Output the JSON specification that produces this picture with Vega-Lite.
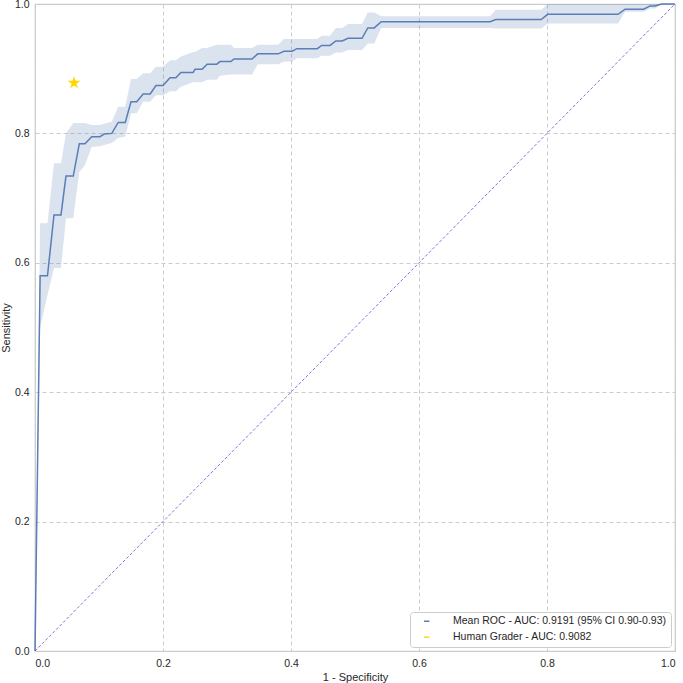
{
  "$schema": "https://vega.github.io/schema/vega-lite/v6.json",
  "width": 640,
  "height": 647,
  "autosize": "none",
  "padding": {"left": 35, "top": 4, "right": 8, "bottom": 32},
  "background": "white",
  "config": {
    "font": "Liberation Sans",
    "view": {"stroke": "#cccccc", "strokeWidth": 1.25},
    "axis": {
      "domain": false,
      "ticks": false,
      "grid": true,
      "gridColor": "#cccccc",
      "gridDash": [4, 3],
      "gridWidth": 1,
      "labelFontSize": 10.5,
      "labelColor": "#262626",
      "titleFontSize": 11,
      "titleFontWeight": "normal",
      "titleColor": "#262626"
    },
    "legend": {
      "labelFontSize": 10.5,
      "labelColor": "#262626",
      "labelLimit": 0
    }
  },
  "datasets": {
    "roc": [
      {"x": 0.0, "y": 0.0, "lo": 0.0, "hi": 0.0, "series": "Mean ROC - AUC: 0.9191 (95% CI 0.90-0.93)"},
      {"x": 0.008, "y": 0.580, "lo": 0.50, "hi": 0.661, "series": "Mean ROC - AUC: 0.9191 (95% CI 0.90-0.93)"},
      {"x": 0.0195, "y": 0.580, "lo": 0.55, "hi": 0.661, "series": "Mean ROC - AUC: 0.9191 (95% CI 0.90-0.93)"},
      {"x": 0.0297, "y": 0.674, "lo": 0.592, "hi": 0.754, "series": "Mean ROC - AUC: 0.9191 (95% CI 0.90-0.93)"},
      {"x": 0.0406, "y": 0.674, "lo": 0.592, "hi": 0.754, "series": "Mean ROC - AUC: 0.9191 (95% CI 0.90-0.93)"},
      {"x": 0.0484, "y": 0.734, "lo": 0.669, "hi": 0.80, "series": "Mean ROC - AUC: 0.9191 (95% CI 0.90-0.93)"},
      {"x": 0.0598, "y": 0.734, "lo": 0.669, "hi": 0.816, "series": "Mean ROC - AUC: 0.9191 (95% CI 0.90-0.93)"},
      {"x": 0.0692, "y": 0.784, "lo": 0.74, "hi": 0.816, "series": "Mean ROC - AUC: 0.9191 (95% CI 0.90-0.93)"},
      {"x": 0.0781, "y": 0.784, "lo": 0.751, "hi": 0.816, "series": "Mean ROC - AUC: 0.9191 (95% CI 0.90-0.93)"},
      {"x": 0.0886, "y": 0.795, "lo": 0.779, "hi": 0.813, "series": "Mean ROC - AUC: 0.9191 (95% CI 0.90-0.93)"},
      {"x": 0.1016, "y": 0.795, "lo": 0.780, "hi": 0.813, "series": "Mean ROC - AUC: 0.9191 (95% CI 0.90-0.93)"},
      {"x": 0.108, "y": 0.799, "lo": 0.782, "hi": 0.815, "series": "Mean ROC - AUC: 0.9191 (95% CI 0.90-0.93)"},
      {"x": 0.120, "y": 0.800, "lo": 0.785, "hi": 0.818, "series": "Mean ROC - AUC: 0.9191 (95% CI 0.90-0.93)"},
      {"x": 0.130, "y": 0.817, "lo": 0.793, "hi": 0.841, "series": "Mean ROC - AUC: 0.9191 (95% CI 0.90-0.93)"},
      {"x": 0.141, "y": 0.817, "lo": 0.795, "hi": 0.841, "series": "Mean ROC - AUC: 0.9191 (95% CI 0.90-0.93)"},
      {"x": 0.150, "y": 0.849, "lo": 0.831, "hi": 0.884, "series": "Mean ROC - AUC: 0.9191 (95% CI 0.90-0.93)"},
      {"x": 0.159, "y": 0.849, "lo": 0.831, "hi": 0.884, "series": "Mean ROC - AUC: 0.9191 (95% CI 0.90-0.93)"},
      {"x": 0.169, "y": 0.861, "lo": 0.849, "hi": 0.893, "series": "Mean ROC - AUC: 0.9191 (95% CI 0.90-0.93)"},
      {"x": 0.180, "y": 0.861, "lo": 0.849, "hi": 0.893, "series": "Mean ROC - AUC: 0.9191 (95% CI 0.90-0.93)"},
      {"x": 0.189, "y": 0.874, "lo": 0.859, "hi": 0.903, "series": "Mean ROC - AUC: 0.9191 (95% CI 0.90-0.93)"},
      {"x": 0.200, "y": 0.874, "lo": 0.859, "hi": 0.903, "series": "Mean ROC - AUC: 0.9191 (95% CI 0.90-0.93)"},
      {"x": 0.211, "y": 0.886, "lo": 0.865, "hi": 0.913, "series": "Mean ROC - AUC: 0.9191 (95% CI 0.90-0.93)"},
      {"x": 0.220, "y": 0.886, "lo": 0.865, "hi": 0.913, "series": "Mean ROC - AUC: 0.9191 (95% CI 0.90-0.93)"},
      {"x": 0.228, "y": 0.894, "lo": 0.872, "hi": 0.919, "series": "Mean ROC - AUC: 0.9191 (95% CI 0.90-0.93)"},
      {"x": 0.247, "y": 0.894, "lo": 0.879, "hi": 0.926, "series": "Mean ROC - AUC: 0.9191 (95% CI 0.90-0.93)"},
      {"x": 0.250, "y": 0.899, "lo": 0.879, "hi": 0.926, "series": "Mean ROC - AUC: 0.9191 (95% CI 0.90-0.93)"},
      {"x": 0.261, "y": 0.899, "lo": 0.879, "hi": 0.932, "series": "Mean ROC - AUC: 0.9191 (95% CI 0.90-0.93)"},
      {"x": 0.269, "y": 0.907, "lo": 0.883, "hi": 0.932, "series": "Mean ROC - AUC: 0.9191 (95% CI 0.90-0.93)"},
      {"x": 0.284, "y": 0.907, "lo": 0.883, "hi": 0.937, "series": "Mean ROC - AUC: 0.9191 (95% CI 0.90-0.93)"},
      {"x": 0.289, "y": 0.911, "lo": 0.889, "hi": 0.937, "series": "Mean ROC - AUC: 0.9191 (95% CI 0.90-0.93)"},
      {"x": 0.306, "y": 0.911, "lo": 0.891, "hi": 0.937, "series": "Mean ROC - AUC: 0.9191 (95% CI 0.90-0.93)"},
      {"x": 0.311, "y": 0.915, "lo": 0.891, "hi": 0.932, "series": "Mean ROC - AUC: 0.9191 (95% CI 0.90-0.93)"},
      {"x": 0.339, "y": 0.915, "lo": 0.891, "hi": 0.932, "series": "Mean ROC - AUC: 0.9191 (95% CI 0.90-0.93)"},
      {"x": 0.348, "y": 0.923, "lo": 0.907, "hi": 0.937, "series": "Mean ROC - AUC: 0.9191 (95% CI 0.90-0.93)"},
      {"x": 0.380, "y": 0.923, "lo": 0.907, "hi": 0.937, "series": "Mean ROC - AUC: 0.9191 (95% CI 0.90-0.93)"},
      {"x": 0.389, "y": 0.927, "lo": 0.911, "hi": 0.946, "series": "Mean ROC - AUC: 0.9191 (95% CI 0.90-0.93)"},
      {"x": 0.402, "y": 0.927, "lo": 0.911, "hi": 0.946, "series": "Mean ROC - AUC: 0.9191 (95% CI 0.90-0.93)"},
      {"x": 0.409, "y": 0.931, "lo": 0.916, "hi": 0.946, "series": "Mean ROC - AUC: 0.9191 (95% CI 0.90-0.93)"},
      {"x": 0.441, "y": 0.931, "lo": 0.916, "hi": 0.946, "series": "Mean ROC - AUC: 0.9191 (95% CI 0.90-0.93)"},
      {"x": 0.448, "y": 0.936, "lo": 0.920, "hi": 0.951, "series": "Mean ROC - AUC: 0.9191 (95% CI 0.90-0.93)"},
      {"x": 0.461, "y": 0.936, "lo": 0.920, "hi": 0.951, "series": "Mean ROC - AUC: 0.9191 (95% CI 0.90-0.93)"},
      {"x": 0.470, "y": 0.943, "lo": 0.925, "hi": 0.963, "series": "Mean ROC - AUC: 0.9191 (95% CI 0.90-0.93)"},
      {"x": 0.480, "y": 0.943, "lo": 0.925, "hi": 0.963, "series": "Mean ROC - AUC: 0.9191 (95% CI 0.90-0.93)"},
      {"x": 0.489, "y": 0.947, "lo": 0.929, "hi": 0.969, "series": "Mean ROC - AUC: 0.9191 (95% CI 0.90-0.93)"},
      {"x": 0.511, "y": 0.947, "lo": 0.929, "hi": 0.969, "series": "Mean ROC - AUC: 0.9191 (95% CI 0.90-0.93)"},
      {"x": 0.520, "y": 0.963, "lo": 0.939, "hi": 0.987, "series": "Mean ROC - AUC: 0.9191 (95% CI 0.90-0.93)"},
      {"x": 0.530, "y": 0.963, "lo": 0.939, "hi": 0.987, "series": "Mean ROC - AUC: 0.9191 (95% CI 0.90-0.93)"},
      {"x": 0.541, "y": 0.9725, "lo": 0.963, "hi": 0.981, "series": "Mean ROC - AUC: 0.9191 (95% CI 0.90-0.93)"},
      {"x": 0.711, "y": 0.9725, "lo": 0.963, "hi": 0.981, "series": "Mean ROC - AUC: 0.9191 (95% CI 0.90-0.93)"},
      {"x": 0.720, "y": 0.976, "lo": 0.962, "hi": 0.991, "series": "Mean ROC - AUC: 0.9191 (95% CI 0.90-0.93)"},
      {"x": 0.791, "y": 0.976, "lo": 0.962, "hi": 0.991, "series": "Mean ROC - AUC: 0.9191 (95% CI 0.90-0.93)"},
      {"x": 0.801, "y": 0.984, "lo": 0.970, "hi": 1.0, "series": "Mean ROC - AUC: 0.9191 (95% CI 0.90-0.93)"},
      {"x": 0.911, "y": 0.984, "lo": 0.970, "hi": 1.0, "series": "Mean ROC - AUC: 0.9191 (95% CI 0.90-0.93)"},
      {"x": 0.922, "y": 0.992, "lo": 0.988, "hi": 1.0, "series": "Mean ROC - AUC: 0.9191 (95% CI 0.90-0.93)"},
      {"x": 0.951, "y": 0.992, "lo": 0.988, "hi": 1.0, "series": "Mean ROC - AUC: 0.9191 (95% CI 0.90-0.93)"},
      {"x": 0.961, "y": 0.997, "lo": 0.993, "hi": 1.0, "series": "Mean ROC - AUC: 0.9191 (95% CI 0.90-0.93)"},
      {"x": 0.969, "y": 0.997, "lo": 0.993, "hi": 1.0, "series": "Mean ROC - AUC: 0.9191 (95% CI 0.90-0.93)"},
      {"x": 0.979, "y": 1.0, "lo": 1.0, "hi": 1.0, "series": "Mean ROC - AUC: 0.9191 (95% CI 0.90-0.93)"},
      {"x": 1.0, "y": 1.0, "lo": 1.0, "hi": 1.0, "series": "Mean ROC - AUC: 0.9191 (95% CI 0.90-0.93)"}
    ],
    "diag": [
      {"x": 0.0, "y": 0.0},
      {"x": 1.0, "y": 1.0}
    ],
    "human": [
      {"x": 0.061, "y": 0.878, "series": "Human Grader - AUC: 0.9082"}
    ]
  },
  "layer": [
    {
      "data": {"name": "roc"},
      "mark": {"type": "area", "color": "#4c72b0", "opacity": 0.2},
      "encoding": {
        "x": {"field": "x", "type": "quantitative", "scale": {"domain": [0, 1], "nice": false}, "axis": {"title": "1 - Specificity", "values": [0, 0.2, 0.4, 0.6, 0.8, 1.0], "format": ".1f", "labelPadding": 7, "titlePadding": 3}},
        "y": {"field": "lo", "type": "quantitative", "scale": {"domain": [0, 1], "nice": false}, "axis": {"title": "Sensitivity", "values": [0, 0.2, 0.4, 0.6, 0.8, 1.0], "format": ".1f", "labelPadding": 6, "titlePadding": 3}},
        "y2": {"field": "hi"}
      }
    },
    {
      "data": {"name": "diag"},
      "mark": {"type": "line", "color": "#6a5acd", "strokeWidth": 1, "strokeDash": [3, 2], "opacity": 0.85},
      "encoding": {
        "x": {"field": "x", "type": "quantitative"},
        "y": {"field": "y", "type": "quantitative"}
      }
    },
    {
      "data": {"name": "roc"},
      "mark": {"type": "line", "strokeWidth": 1.5, "opacity": 0.9},
      "encoding": {
        "x": {"field": "x", "type": "quantitative"},
        "y": {"field": "y", "type": "quantitative"},
        "color": {
          "field": "series",
          "type": "nominal",
          "scale": {
            "domain": ["Mean ROC - AUC: 0.9191 (95% CI 0.90-0.93)", "Human Grader - AUC: 0.9082"],
            "range": ["#4c72b0", "#FFD700"]
          },
          "legend": {
            "title": null,
            "orient": "bottom-right",
            "offset": 4,
            "padding": 4,
            "fillColor": "white",
            "strokeColor": "#cccccc",
            "cornerRadius": 3,
            "labelLimit": 0,
            "symbolSize": 30,
            "symbolStrokeWidth": 1.5,
            "symbolOffset": 7.5,
            "labelOffset": 21,
            "rowPadding": 5,
            "encode": {
              "symbols": {
                "shape": {"value": {"expr": "datum.value === 'Human Grader - AUC: 0.9082' ? 'M0,-2.2L0.494,-0.68L2.092,-0.68L0.799,0.26L1.294,1.78L0,0.84L-1.294,1.78L-0.799,0.26L-2.092,-0.68L-0.494,-0.68Z' : 'M-4,0L4,0'"}},
                "fill": {"value": {"expr": "datum.value === 'Human Grader - AUC: 0.9082' ? '#FFD700' : 'transparent'"}},
                "stroke": {"value": {"expr": "datum.value === 'Human Grader - AUC: 0.9082' ? '#FFD700' : '#4c72b0'"}},
                "strokeWidth": {"value": {"expr": "datum.value === 'Human Grader - AUC: 0.9082' ? 0.5 : 1.5"}},
                "opacity": {"value": 1}
              }
            }
          }
        }
      }
    },
    {
      "data": {"name": "human"},
      "mark": {"type": "point", "shape": "M0,-1L0.2245,-0.309L0.951,-0.309L0.363,0.118L0.588,0.809L0,0.382L-0.588,0.809L-0.363,0.118L-0.951,-0.309L-0.2245,-0.309Z", "filled": true, "size": 180, "opacity": 1},
      "encoding": {
        "x": {"field": "x", "type": "quantitative"},
        "y": {"field": "y", "type": "quantitative"},
        "color": {"field": "series", "type": "nominal"}
      }
    }
  ]
}
